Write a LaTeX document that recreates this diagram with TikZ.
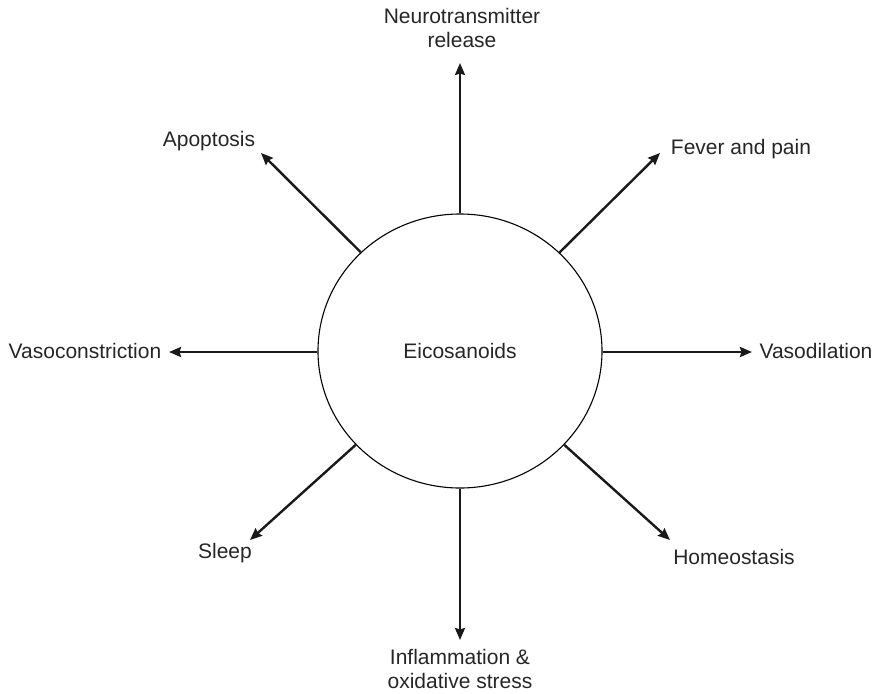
\documentclass[tikz,border=0pt]{standalone}
\usepackage{fontspec}
\setmainfont{Liberation Sans}
\usetikzlibrary{shapes.geometric,arrows.meta}
\begin{document}
\begin{tikzpicture}[x=1pt,y=-1pt,
  lbl/.style={font=\fontsize{21}{24.5}\selectfont, inner sep=0pt, align=center, text=black!85},
  conn/.style={line width=2.4pt, -{Stealth[length=12pt,width=10pt,inset=1.5pt]}, black!90},
  hub/.style={ellipse, draw, line width=1.1pt, minimum width=284pt, minimum height=274pt, inner sep=0pt}]
\useasboundingbox (0,0) rectangle (879,694);
\node[hub,lbl] (e) at (460,351) {Eicosanoids};
% tips
\coordinate (tN) at (460,63);
\coordinate (tI) at (460,640);
\coordinate (tVc) at (169,352);
\coordinate (tVd) at (752,352);
\coordinate (tA) at (261,153);
\coordinate (tF) at (660,153);
\coordinate (tS) at (250,540);
\coordinate (tH) at (670,540);
% labels
\node[lbl] (lN) at (462,28) {Neurotransmitter\\release};
\node[lbl] (lI) at (460,669) {Inflammation \&\\oxidative stress};
\node[lbl] (lVc) at (85,351) {Vasoconstriction};
\node[lbl] (lVd) at (816,351) {Vasodilation};
\node[lbl] (lA) at (209,141) {Apoptosis};
\node[lbl] (lF) at (741,149) {Fever and pain};
\node[lbl] (lS) at (225,553) {Sleep};
\node[lbl] (lH) at (734,557) {Homeostasis};
% connectors
\draw[conn] (e.north) -- (tN);
\draw[conn] (e.south) -- (tI);
\draw[conn] (e.west |- tVc) -- (tVc);
\draw[conn] (e.east |- tVd) -- (tVd);
\draw[conn] (e) -- (tA);
\draw[conn] (e) -- (tF);
\draw[conn] (e) -- (tS);
\draw[conn] (e) -- (tH);
\end{tikzpicture}
\end{document}
